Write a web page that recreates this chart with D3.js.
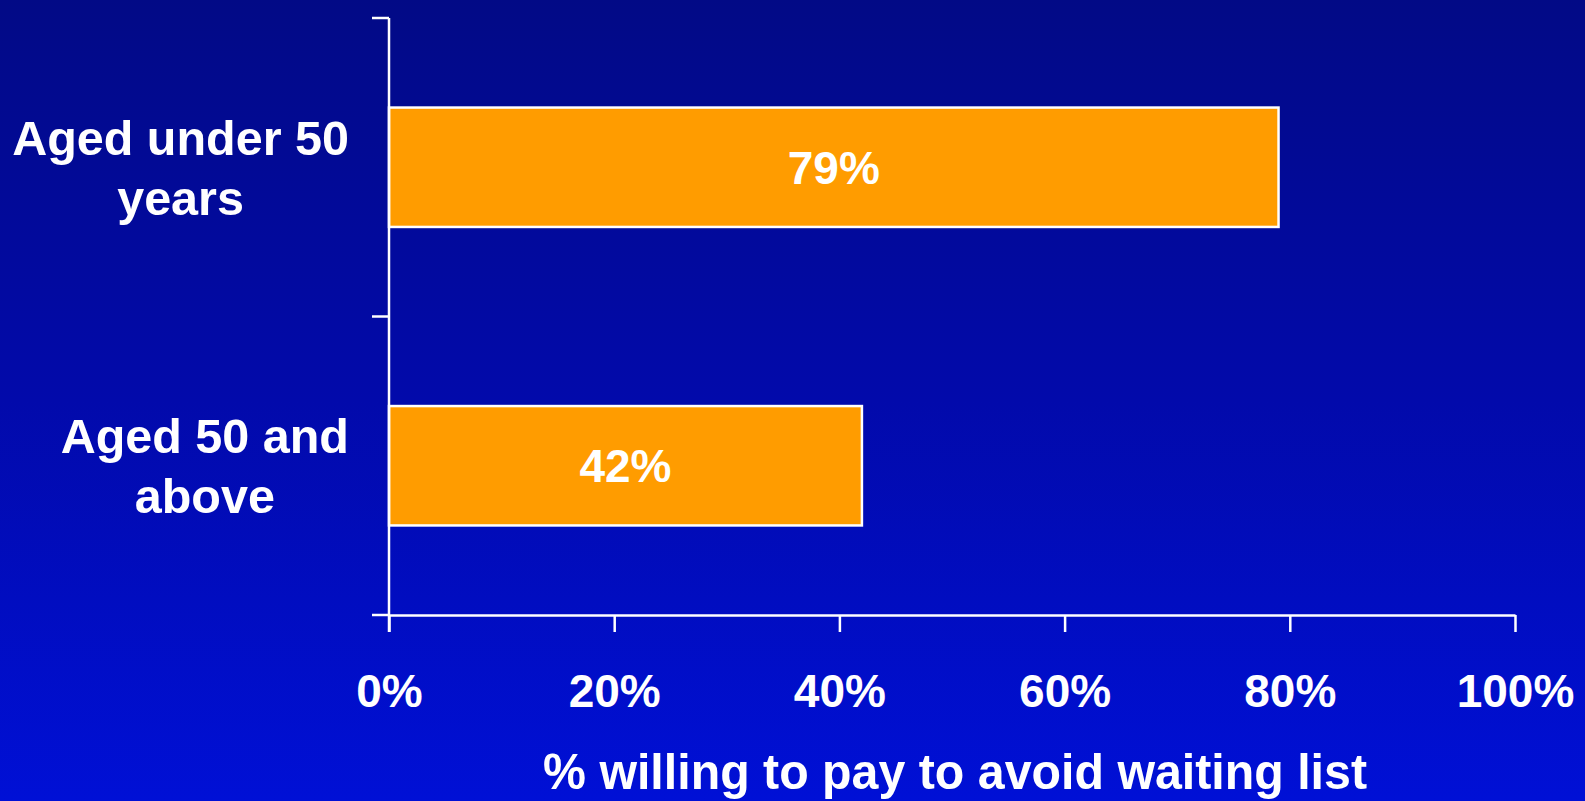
<!DOCTYPE html>
<html>
<head>
<meta charset="utf-8">
<script src="https://cdn.jsdelivr.net/npm/d3@7"></script>
<style>
  html, body { margin: 0; padding: 0; overflow: hidden; }
  svg { display: block; }
  text { font-family: "Liberation Sans", Arial, sans-serif; font-weight: bold; fill: #ffffff; }
</style>
</head>
<body>
<svg id="chart" width="1585" height="801"></svg>
<script>
// Share of respondents willing to pay to avoid a waiting list, by age group
const categories = [["Aged under 50", "years"], ["Aged 50 and", "above"]];
const values = [79, 42];
const xTicks = [0, 20, 40, 60, 80, 100];
const xTitle = "% willing to pay to avoid waiting list";

const W = 1585, H = 801;
const margin = { left: 389, right: 70, top: 18, bottom: 186 };
const svg = d3.select("#chart");

// Background: vertical navy-to-blue gradient
const defs = svg.append("defs");
const grad = defs.append("linearGradient").attr("id", "bg").attr("x1", 0).attr("y1", 0).attr("x2", 0).attr("y2", 1);
grad.append("stop").attr("offset", "0%").attr("stop-color", "#020a86");
grad.append("stop").attr("offset", "50%").attr("stop-color", "#020aab");
grad.append("stop").attr("offset", "100%").attr("stop-color", "#0010d6");
svg.append("rect").attr("width", W).attr("height", H).attr("fill", "url(#bg)");

const x = d3.scaleLinear().domain([0, 100]).range([margin.left, W - margin.right]);
const y = d3.scaleBand().domain(d3.range(categories.length))
  .range([margin.top, H - margin.bottom]).paddingInner(0.6).paddingOuter(0.3);
const yBand = d3.scaleBand().domain(d3.range(categories.length))
  .range([margin.top, H - margin.bottom]);

const x0 = x(0), yBottom = H - margin.bottom;

// Bars
svg.append("g").selectAll("rect").data(values).join("rect")
  .attr("x", x0)
  .attr("y", (d, i) => y(i))
  .attr("width", d => x(d) - x0)
  .attr("height", y.bandwidth())
  .attr("fill", "#ff9c00")
  .attr("stroke", "#ffffff")
  .attr("stroke-width", 2.5);

// Value labels inside the bars
svg.append("g").selectAll("text").data(values).join("text")
  .attr("x", d => (x0 + x(d)) / 2)
  .attr("y", (d, i) => y(i) + y.bandwidth() / 2)
  .attr("dy", "0.36em")
  .attr("text-anchor", "middle")
  .attr("font-size", 46)
  .text(d => d + "%");

// Vertical category axis with ticks at band boundaries
const axisColor = "#ffffff";
svg.append("line").attr("x1", x0).attr("x2", x0).attr("y1", margin.top).attr("y2", yBottom + 17)
  .attr("stroke", axisColor).attr("stroke-width", 2.5);
const bounds = d3.range(categories.length + 1).map(i => i < categories.length ? yBand(i) : yBottom);
svg.append("g").selectAll("line").data(bounds).join("line")
  .attr("x1", x0 - 17).attr("x2", x0).attr("y1", d => d).attr("y2", d => d)
  .attr("stroke", axisColor).attr("stroke-width", 2.5);

// Horizontal value axis
const xAxis = svg.append("g").attr("transform", `translate(0,${yBottom})`)
  .call(d3.axisBottom(x).tickValues(xTicks).tickSize(17).tickSizeOuter(0).tickFormat(d => d + "%"));
xAxis.select(".domain").attr("stroke", axisColor).attr("stroke-width", 2.5);
xAxis.selectAll(".tick line").attr("stroke", axisColor).attr("stroke-width", 2.5);
xAxis.selectAll(".tick text")
  .attr("fill", "#ffffff").attr("font-size", 46)
  .attr("font-family", "Liberation Sans, Arial, sans-serif")
  .attr("font-weight", "bold")
  .attr("y", 92).attr("dy", 0);

// Category labels: two-line blocks, right-aligned with lines centred inside
const labelRight = 349;
const lineGap = 60;
categories.forEach((lines, i) => {
  const cy = yBand(i) + yBand.bandwidth() / 2;
  const g = svg.append("g");
  const texts = lines.map((t, k) => g.append("text")
    .attr("font-size", 48.5)
    .attr("text-anchor", "middle")
    .attr("y", cy + (k - (lines.length - 1) / 2) * lineGap)
    .attr("dy", "0.36em")
    .text(t));
  const maxW = d3.max(texts, t => t.node().getComputedTextLength());
  texts.forEach(t => t.attr("x", labelRight - maxW / 2));
});

// Axis title
svg.append("text")
  .attr("x", (x0 + x(100)) / 2 + 3)
  .attr("y", 789)
  .attr("text-anchor", "middle")
  .attr("font-size", 50)
  .attr("textLength", 824)
  .attr("lengthAdjust", "spacingAndGlyphs")
  .text(xTitle);
</script>
</body>
</html>
